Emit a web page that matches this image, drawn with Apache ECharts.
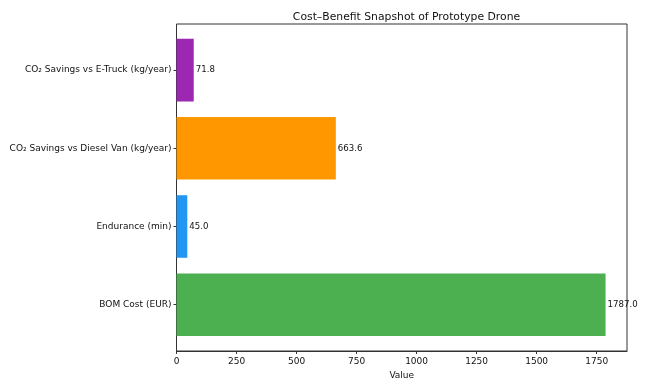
<!DOCTYPE html>
<html><head><meta charset="utf-8">
<script src="https://cdn.jsdelivr.net/npm/echarts@6/dist/echarts.min.js"></script>
<style>html,body{margin:0;padding:0;background:#fff}#c{width:645px;height:386px}</style>
</head><body><div id="c"></div>
<script>
const categories = ['BOM Cost (EUR)', 'Endurance (min)', 'CO₂ Savings vs Diesel Van (kg/year)', 'CO₂ Savings vs E-Truck (kg/year)'];
const values = [1787.0, 45.0, 663.6, 71.8];
const colors = ['#4CAF50', '#2196F3', '#FF9800', '#9C27B0'];
const title = 'Cost–Benefit Snapshot of Prototype Drone';
const xName = 'Value';
const xMax = 1787.0 * 1.05;

const font = 'DejaVu Sans';
const chart = echarts.init(document.getElementById('c'), null, {renderer: 'canvas'});
chart.setOption({
  animation: false,
  backgroundColor: '#fff',
  title: {text: title, left: 401.5, top: 7, textAlign: 'center',
    textStyle: {fontFamily: font, fontSize: 10.8, fontWeight: 'normal', color: '#111'}},
  grid: [
    {left: 176.5, right: 18, top: 24, bottom: 35, show: true, borderColor: '#333', borderWidth: 1, backgroundColor: 'transparent'},
    {left: 176.5, right: 18, top: 31, bottom: 42.2}
  ],
  xAxis: [
    {type: 'value', gridIndex: 0, min: 0, max: xMax, interval: 250,
      name: xName, nameLocation: 'middle', nameGap: 17,
      nameTextStyle: {fontFamily: font, fontSize: 9, color: '#111'},
      axisLine: {show: true, lineStyle: {color: '#333', width: 1}},
      axisTick: {show: true, length: 3, lineStyle: {color: '#333'}},
      axisLabel: {fontFamily: font, fontSize: 9, color: '#111', margin: 6, showMaxLabel: false,
        formatter: v => String(v)},
      splitLine: {show: false}},
    {type: 'value', gridIndex: 1, min: 0, max: xMax, show: false}
  ],
  yAxis: [
    {type: 'value', gridIndex: 0, show: false, min: 0, max: 1},
    {type: 'category', gridIndex: 1, data: categories,
      axisLine: {show: false},
      axisTick: {show: true, length: 3, alignWithLabel: true, lineStyle: {color: '#333'}},
      axisLabel: {fontFamily: font, fontSize: 9, color: '#111', margin: 5}}
  ],
  series: [{
    type: 'bar', xAxisIndex: 1, yAxisIndex: 1,
    barWidth: '80%',
    data: values.map((v, i) => ({value: v, itemStyle: {color: colors[i]}})),
    label: {show: true, position: 'right', distance: 2, fontFamily: font, fontSize: 8.6, color: '#111',
      formatter: p => p.value.toFixed(1)}
  }]
});
</script></body></html>
